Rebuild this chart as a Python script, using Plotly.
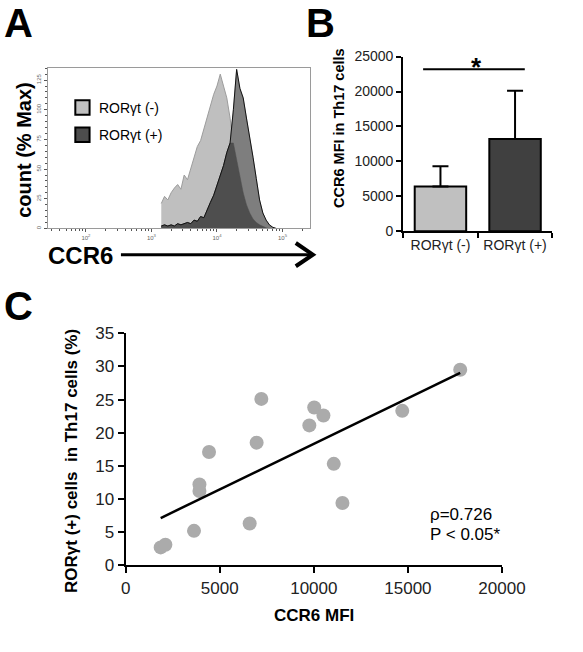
import numpy as np
import plotly.graph_objects as go

W, H = 583, 652
FONT = "Liberation Sans, Arial, sans-serif"

# ---------------- data ----------------
# Panel A: flow histogram (x = log10 CCR6 bin centre, y = count % max)
hist_log_ccr6 = [3.15, 3.20, 3.25, 3.30, 3.35, 3.40, 3.45, 3.50, 3.55, 3.60,
                 3.65, 3.70, 3.75, 3.80, 3.85, 3.90, 3.95, 4.00, 4.05, 4.10,
                 4.15, 4.20, 4.25, 4.30, 4.35, 4.40, 4.45, 4.50, 4.55, 4.60,
                 4.65, 4.70, 4.75, 4.80, 4.85, 4.90]
hist_rorgt_neg = [21, 27, 24, 30, 34, 37, 33, 45, 41, 50,
                  58, 69, 74, 84, 92, 103, 113, 120, 130, 120,
                  110, 93, 72, 58, 44, 30, 20, 13, 8, 5,
                  3, 1.5, 0.5, 0, 0, 0]
hist_rorgt_pos = [2, 3, 2, 3, 2, 4, 3, 4, 5, 4,
                  7, 6, 10, 9, 16, 22, 28, 36, 45, 53,
                  64, 72, 100, 134, 118, 110, 93, 78, 60, 42,
                  24, 13, 7, 3, 1, 0]
hist_xticks = [1e2, 1e3, 1e4, 1e5]
hist_xticklabels = ["10<sup>2</sup>", "10<sup>3</sup>", "10<sup>4</sup>", "10<sup>5</sup>"]
hist_yticks = [0, 25, 50, 75, 100, 125]

# Panel B: bar chart
bar_groups = ["RORγt (-)", "RORγt (+)"]
bar_mfi = [6400, 13200]
bar_sd = [2900, 6900]

# Panel C: scatter
scatter_ccr6_mfi = [1860, 2110, 3630, 3920, 3920, 4430, 6590, 6960, 7210,
                    9760, 10020, 10510, 11060, 11520, 14700, 17780]
scatter_rorgt_pct = [2.7, 3.1, 5.2, 12.2, 11.2, 17.1, 6.3, 18.5, 25.1,
                     21.1, 23.8, 22.6, 15.3, 9.4, 23.3, 29.5]


def px(x):
    return x / W


def py(y):
    return 1 - y / H


fig = go.Figure()

# ---------------- Panel A ----------------
hx = [10 ** v for v in hist_log_ccr6]
overlap = list(np.minimum(hist_rorgt_neg, hist_rorgt_pos))
fig.add_trace(go.Scatter(x=hx, y=hist_rorgt_neg, mode="lines", fill="tozeroy",
                         fillcolor="#bfbfbf", line=dict(color="#9c9c9c", width=1),
                         xaxis="x", yaxis="y", showlegend=False, hoverinfo="skip"))
fig.add_trace(go.Scatter(x=hx, y=hist_rorgt_pos, mode="lines", fill="tozeroy",
                         fillcolor="#7e7e7e", line=dict(color="#7e7e7e", width=0.5),
                         xaxis="x", yaxis="y", showlegend=False, hoverinfo="skip"))
fig.add_trace(go.Scatter(x=hx, y=overlap, mode="lines", fill="tozeroy",
                         fillcolor="#4e4e4e", line=dict(color="#4e4e4e", width=0.5),
                         xaxis="x", yaxis="y", showlegend=False, hoverinfo="skip"))
fig.add_trace(go.Scatter(x=hx, y=hist_rorgt_pos, mode="lines",
                         line=dict(color="#111111", width=1),
                         xaxis="x", yaxis="y", showlegend=False, hoverinfo="skip"))

# ---------------- Panel B ----------------
fig.add_trace(go.Bar(x=bar_groups, y=bar_mfi, width=0.69,
                     marker=dict(color=["#c0c0c0", "#404040"],
                                 line=dict(color="black", width=2)),
                     error_y=dict(type="data", array=bar_sd, arrayminus=[0, 0],
                                  symmetric=False, color="black", thickness=2, width=8),
                     xaxis="x2", yaxis="y2", showlegend=False))

# ---------------- Panel C ----------------
fig.add_trace(go.Scatter(x=scatter_ccr6_mfi, y=scatter_rorgt_pct, mode="markers",
                         marker=dict(size=14, color="#ababab", line=dict(width=0)),
                         xaxis="x3", yaxis="y3", showlegend=False))
slope, intercept = np.polyfit(scatter_ccr6_mfi, scatter_rorgt_pct, 1)
fx = [min(scatter_ccr6_mfi), max(scatter_ccr6_mfi)]
fy = [slope * v + intercept for v in fx]
fig.add_trace(go.Scatter(x=fx, y=fy, mode="lines", line=dict(color="black", width=2.5),
                         xaxis="x3", yaxis="y3", showlegend=False))

# ---------------- axes ----------------
small = dict(family=FONT, size=6, color="#666666")
fig.update_layout(
    xaxis=dict(type="log", range=[1.418, 5.42], domain=[px(45), px(321)], anchor="y",
               showline=True, mirror=True, linecolor="#9a9a9a", linewidth=1,
               ticks="outside", ticklen=3, tickcolor="#555555", tickwidth=1,
               tickmode="array", tickvals=hist_xticks, ticktext=hist_xticklabels,
               tickfont=small, showgrid=False, zeroline=False,
               minor=dict(ticks="outside", ticklen=2, tickcolor="#555555", dtick="D1",
                          showgrid=False)),
    yaxis=dict(range=[0, 135], domain=[py(226), py(61)], anchor="x",
               showline=True, mirror=True, linecolor="#9a9a9a", linewidth=1,
               ticks="outside", ticklen=3, tickcolor="#555555", tickwidth=1,
               tickmode="array", tickvals=hist_yticks, tickangle=-90,
               tickfont=small, showgrid=False, zeroline=False,
               minor=dict(ticks="outside", ticklen=2, tickcolor="#555555", dtick=5,
                          showgrid=False)),
    xaxis2=dict(type="category", domain=[px(419), px(576)], anchor="y2", range=[-0.5, 1.5],
                showline=True, linecolor="black", linewidth=2, ticks="outside",
                tickson="boundaries", ticklen=5, tickwidth=2, tickcolor="black",
                tickfont=dict(family=FONT, size=14, color="#222"), showgrid=False),
    yaxis2=dict(domain=[py(229), py(49)], anchor="x2", range=[0, 25000],
                showline=True, linecolor="black", linewidth=2, ticks="outside",
                ticklen=5, tickwidth=2, tickcolor="black", dtick=5000, tickformat="d",
                tickfont=dict(family=FONT, size=14, color="#222"),
                showgrid=False, zeroline=False),
    xaxis3=dict(domain=[px(127), px(523)], anchor="y3", range=[0, 20000],
                showline=True, linecolor="black", linewidth=2, ticks="outside",
                ticklen=6, tickwidth=2, tickcolor="black", dtick=5000, tickformat="d",
                tickfont=dict(family=FONT, size=17, color="#222"),
                showgrid=False, zeroline=False),
    yaxis3=dict(domain=[py(573), py(334)], anchor="x3", range=[0, 35],
                showline=True, linecolor="black", linewidth=2, ticks="outside",
                ticklen=6, tickwidth=2, tickcolor="black", dtick=5, tickformat="d",
                tickfont=dict(family=FONT, size=17, color="#222"),
                showgrid=False, zeroline=False),
    width=W, height=H, autosize=False,
    margin=dict(l=0, r=0, t=0, b=0, pad=0),
    paper_bgcolor="white", plot_bgcolor="rgba(0,0,0,0)",
    bargap=0.3,
    font=dict(family=FONT, color="black"),
)

ann = []


def text(x, y, s, size, bold=False, angle=0, xanchor="center", yanchor="middle", color="black"):
    ann.append(dict(x=px(x), y=py(y), xref="paper", yref="paper", showarrow=False,
                    text=f"<b>{s}</b>" if bold else s, textangle=angle,
                    xanchor=xanchor, yanchor=yanchor,
                    font=dict(family=FONT, size=size, color=color)))


text(14, 14, "A", 40, bold=True)
text(332, 14, "B", 40, bold=True)
text(14, 306, "C", 40, bold=True)
text(20, 145, "count (% Max)", 20, bold=True, angle=-90)
text(43, 254, "CCR6", 24, bold=True, xanchor="left")
text(97, 102, "RORγt (-)", 14, xanchor="left")
text(97, 130, "RORγt (+)", 14, xanchor="left")
text(352, 122, "CCR6 MFI in Th17 cells", 14.5, bold=True, angle=-90)
text(496, 60, "*", 26, bold=True)
text(70, 466, "RORγt (+) cells  in Th17 cells (%)", 17, bold=True, angle=-90)
text(325, 625, "CCR6 MFI", 17, bold=True)
text(445, 521, "ρ=0.726", 17, xanchor="left")
text(445, 541, "P &lt; 0.05*", 17, xanchor="left")
fig.update_layout(annotations=ann)

shapes = []


def line(x0, y0, x1, y1, w, color="black"):
    shapes.append(dict(type="line", xref="paper", yref="paper",
                       x0=px(x0), y0=py(y0), x1=px(x1), y1=py(y1),
                       line=dict(color=color, width=w)))


# arrow under histogram
line(122, 253, 322, 253, 3)
shapes.append(dict(type="path", xref="paper", yref="paper",
                   path=f"M {px(306)} {py(241)} L {px(324)} {py(253)} L {px(306)} {py(265)}",
                   line=dict(color="black", width=4)))
# legend squares
shapes.append(dict(type="rect", xref="paper", yref="paper", x0=px(74), x1=px(89),
                   y0=py(109), y1=py(94), fillcolor="#c0c0c0", line=dict(color="black", width=2)))
shapes.append(dict(type="rect", xref="paper", yref="paper", x0=px(74), x1=px(89),
                   y0=py(137), y1=py(122), fillcolor="#4d4d4d", line=dict(color="black", width=2)))
# significance bar
line(440, 62, 547, 62, 2)
fig.update_layout(shapes=shapes)

fig.write_html("out.html")
